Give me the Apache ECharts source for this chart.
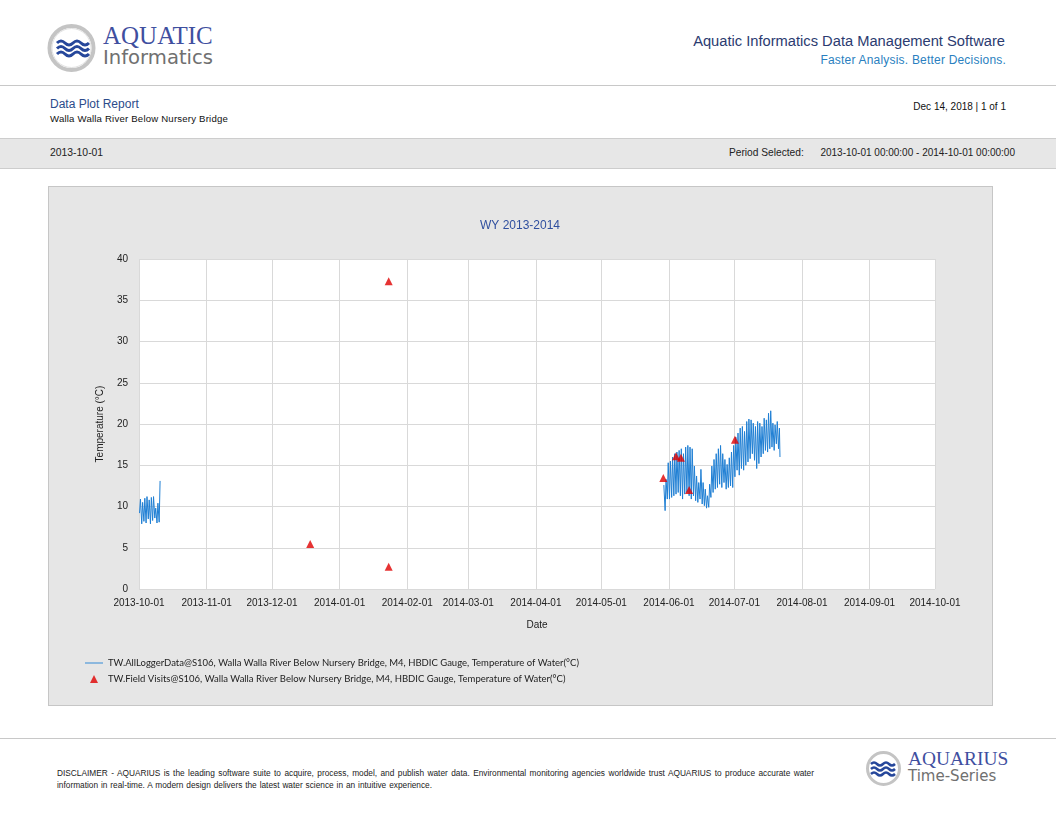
<!DOCTYPE html>
<html>
<head>
<meta charset="utf-8">
<script src="https://cdn.jsdelivr.net/npm/echarts@6/dist/echarts.min.js"></script>
<style>
  html, body { margin: 0; padding: 0; background: #fff; }
  body { width: 1056px; height: 816px; position: relative; overflow: hidden; font-family: 'Liberation Sans', Arial, sans-serif; }
  .abs { position: absolute; white-space: nowrap; }
  #chart { position: absolute; left: 0; top: 0; width: 1056px; height: 816px; z-index: 2; }
</style>
</head>
<body>
<!-- header logo -->
<svg class="abs" style="left:0;top:0;z-index:1" width="300" height="90">
  <circle cx="71.5" cy="48" r="22" fill="#fff" stroke="#c4c4c4" stroke-width="4"/>
  <circle cx="71.5" cy="48" r="19.5" fill="none" stroke="#e2e2e2" stroke-width="1"/>
  <path d="M57,43 q4,-4 8,0 t8,0 t8,0 t8,0" fill="none" stroke="#26479b" stroke-width="3"/>
  <path d="M57,48.5 q4,-4 8,0 t8,0 t8,0 t8,0" fill="none" stroke="#26479b" stroke-width="3"/>
  <path d="M57,54 q4,-4 8,0 t8,0 t8,0 t8,0" fill="none" stroke="#26479b" stroke-width="3"/>
</svg>
<div class="abs" style="left:103px;top:21px;font:25px/29px 'Liberation Serif',serif;color:#3f4f9f;">AQUATIC</div>
<div class="abs" style="left:103px;top:46px;font:19.6px/24px 'DejaVu Sans',sans-serif;color:#707070;">Informatics</div>
<div class="abs" style="right:51px;top:32px;font:14.7px/18px 'Liberation Sans',sans-serif;color:#2b3b70;text-align:right;">Aquatic Informatics Data Management Software</div>
<div class="abs" style="right:50px;top:52px;font:12px/16px 'Liberation Sans',sans-serif;color:#2a7fc0;text-align:right;letter-spacing:0.2px;">Faster Analysis. Better Decisions.</div>
<div class="abs" style="left:0;top:85px;width:1056px;height:1px;background:#c8c8c8;"></div>

<div class="abs" style="left:50px;top:97px;font:12px/14px 'Liberation Sans',sans-serif;color:#2b4b8b;">Data Plot Report</div>
<div class="abs" style="left:50px;top:113px;font:9.6px/12px 'Liberation Sans',sans-serif;color:#111;letter-spacing:0.2px;">Walla Walla River Below Nursery Bridge</div>
<div class="abs" style="right:50px;top:101px;font:10px/12px 'Liberation Sans',sans-serif;color:#111;text-align:right;">Dec 14, 2018 | 1 of 1</div>

<div class="abs" style="left:0;top:138px;width:1056px;height:29px;background:#e7e7e7;border-top:1px solid #cdcdcd;border-bottom:1px solid #cdcdcd;"></div>
<div class="abs" style="left:50px;top:147px;font:10.4px/12px 'Liberation Sans',sans-serif;color:#222;">2013-10-01</div>
<div class="abs" style="left:729px;top:147px;font:10.2px/12px 'Liberation Sans',sans-serif;color:#222;">Period Selected:</div>
<div class="abs" style="right:41px;top:147px;font:10px/12px 'Liberation Sans',sans-serif;color:#222;text-align:right;">2013-10-01 00:00:00 - 2014-10-01 00:00:00</div>

<!-- chart panel -->
<div class="abs" style="left:48px;top:186px;width:943px;height:518px;background:#e6e6e6;border:1px solid #c6c6c6;z-index:1;"></div>

<!-- footer -->
<div class="abs" style="left:0;top:738px;width:1056px;height:1px;background:#c8c8c8;"></div>
<div class="abs" style="left:57px;top:767px;width:757px;white-space:nowrap;font:8.3px/12px 'Liberation Sans',sans-serif;color:#222;text-align:justify;text-align-last:justify;">DISCLAIMER - AQUARIUS is the leading software suite to acquire, process, model, and publish water data. Environmental monitoring agencies worldwide trust AQUARIUS to produce accurate water</div>
<div class="abs" style="left:57px;top:779px;font:8.3px/12px 'Liberation Sans',sans-serif;color:#222;word-spacing:0.6px;">information in real-time. A modern design delivers the latest water science in an intuitive experience.</div>
<svg class="abs" style="left:840px;top:740px;" width="80" height="60">
  <circle cx="43.5" cy="28.5" r="16" fill="#fff" stroke="#c4c4c4" stroke-width="3"/>
  <path d="M31,24 q3,-3 6,0 t6,0 t6,0 t6,0" fill="none" stroke="#26479b" stroke-width="2.5"/>
  <path d="M31,29 q3,-3 6,0 t6,0 t6,0 t6,0" fill="none" stroke="#26479b" stroke-width="2.5"/>
  <path d="M31,34 q3,-3 6,0 t6,0 t6,0 t6,0" fill="none" stroke="#26479b" stroke-width="2.5"/>
</svg>
<div class="abs" style="left:908px;top:747px;font:19.4px/24px 'Liberation Serif',serif;color:#3f4f9f;">AQUARIUS</div>
<div class="abs" style="left:908px;top:767px;font:15px/19px 'DejaVu Sans',sans-serif;color:#707070;">Time-Series</div>

<div id="chart"></div>

<script>
// ---- data ----
const xTickMin = '2013-10-01';
const xTickMax = '2014-10-01';
const yTicks = [0, 5, 10, 15, 20, 25, 30, 35, 40];

const fallDays = ['2013-10-01','2013-10-02','2013-10-03','2013-10-04','2013-10-05','2013-10-06','2013-10-07','2013-10-08','2013-10-09','2013-10-10'];
const fallLow  = [9.2, 7.9, 8.2, 8.0, 8.5, 7.9, 8.3, 8.6, 8.0, 8.1];
const fallHigh = [10.9, 10.5, 11.0, 11.2, 10.8, 11.1, 11.2, 9.8, 10.4, 13.1];

const summerDays = [
  '2014-05-29','2014-05-30','2014-05-31',
  '2014-06-01','2014-06-02','2014-06-03','2014-06-04','2014-06-05','2014-06-06','2014-06-07','2014-06-08','2014-06-09','2014-06-10',
  '2014-06-11','2014-06-12','2014-06-13','2014-06-14','2014-06-15','2014-06-16','2014-06-17','2014-06-18','2014-06-19','2014-06-20',
  '2014-06-21','2014-06-22','2014-06-23','2014-06-24','2014-06-25','2014-06-26','2014-06-27','2014-06-28','2014-06-29','2014-06-30',
  '2014-07-01','2014-07-02','2014-07-03','2014-07-04','2014-07-05','2014-07-06','2014-07-07','2014-07-08','2014-07-09','2014-07-10',
  '2014-07-11','2014-07-12','2014-07-13','2014-07-14','2014-07-15','2014-07-16','2014-07-17','2014-07-18','2014-07-19','2014-07-20',
  '2014-07-21'
];
const summerLow = [
  null, 9.5, 10.9,
  10.9, 11.1, 11.3, 11.5, 11.7, 11.3, 10.9, 11.5, 11.7, 11.3,
  10.9, 11.3, 10.7, 10.5, 10.9, 10.3, 10.1, 9.8, 9.9, 11.1,
  11.7, 12.1, 12.3, 12.7, 12.3, 12.9, 12.1, 12.3, 12.5, 12.3,
  13.6, 14.4, 13.8, 14.6, 14.4, 15.0, 15.4, 15.8, 16.4, 15.6,
  14.6, 15.2, 16.0, 16.4, 16.8, 16.6, 17.0, 17.2, 16.8, 17.6,
  17.0
];
const summerHigh = [
  12.6, 13.3, 15.3,
  15.5, 16.0, 16.4, 16.6, 16.8, 17.0, 16.4, 17.2, 17.4, 17.2,
  17.0, 14.9, 13.7, 12.9, 14.5, 12.9, 12.1, 11.3, 12.7, 14.9,
  15.7, 16.4, 17.0, 17.4, 16.4, 15.7, 15.1, 15.9, 16.6, 17.4,
  18.4, 18.9, 19.5, 19.7, 19.1, 20.3, 20.6, 20.5, 20.1, 19.7,
  20.3, 20.1, 19.7, 20.7, 20.5, 21.3, 21.6, 20.1, 19.9, 20.3,
  19.5
];
const summerEnd = ['2014-07-21 22:00', 16.0];
const gapPoint = ['2013-10-11 00:00', null];

const visitTimes  = ['2013-12-18 12:00','2014-01-23 12:00','2014-01-23 12:00','2014-05-29 10:00','2014-06-04 06:00','2014-06-06 12:00','2014-06-10 06:00','2014-07-01 06:00'];
const visitValues = [5.45, 37.3, 2.7, 13.45, 16.1, 15.9, 12.0, 18.1];

const loggerName = 'TW.AllLoggerData@S106, Walla Walla River Below Nursery Bridge, M4, HBDIC Gauge, Temperature of Water(°C)';
const visitName  = 'TW.Field Visits@S106, Walla Walla River Below Nursery Bridge, M4, HBDIC Gauge, Temperature of Water(°C)';

// ---- build ----
function daily(days, lows, highs) {
  const out = [];
  days.forEach((d, i) => {
    if (lows[i] != null) out.push([d + ' 06:00', lows[i]]);
    if (highs[i] != null) out.push([d + ' 16:00', highs[i]]);
  });
  return out;
}
const loggerData = [].concat(daily(fallDays, fallLow, fallHigh), [gapPoint], daily(summerDays, summerLow, summerHigh), [summerEnd]);
const visitData = visitTimes.map((t, i) => [t, visitValues[i]]);

const DAY = 86400000;
const FONT = "'Liberation Sans', Arial, sans-serif";
const LEGEND_FONT = "Lato, 'Liberation Sans', sans-serif";
const legendText = { color: '#222', fontSize: 9.5, fontFamily: LEGEND_FONT, lineHeight: 12 };

const chart = echarts.init(document.getElementById('chart'), null, { renderer: 'canvas' });
chart.setOption({
  animation: false,
  backgroundColor: 'transparent',
  textStyle: { fontFamily: FONT },
  graphic: [{
    type: 'text', x: 520, y: 226,
    style: { text: 'WY 2013-2014', textAlign: 'center', textVerticalAlign: 'middle', fill: '#2f4f9f', font: "12px " + FONT }
  }],
  grid: { left: 139, top: 259, width: 796, height: 330, show: true, backgroundColor: '#ffffff', borderWidth: 0 },
  xAxis: {
    type: 'time',
    min: xTickMin, max: xTickMax,
    splitNumber: 12, minInterval: 28 * DAY, maxInterval: 31 * DAY,
    axisLine: { show: false }, axisTick: { show: false },
    splitLine: { show: true, lineStyle: { color: '#d9d9d9', width: 1 } },
    axisLabel: {
      color: '#222', fontSize: 10, fontFamily: FONT, margin: 9, hideOverlap: false,
      showMinLabel: true, showMaxLabel: true,
      formatter: v => echarts.time.format(v, '{yyyy}-{MM}-{dd}', false)
    },
    name: 'Date', nameLocation: 'middle', nameGap: 31,
    nameTextStyle: { color: '#222', fontSize: 10, fontFamily: FONT }
  },
  yAxis: {
    type: 'value', min: yTicks[0], max: yTicks[yTicks.length - 1], interval: yTicks[1] - yTicks[0],
    axisLine: { show: false }, axisTick: { show: false },
    splitLine: { show: true, lineStyle: { color: '#d9d9d9', width: 1 } },
    axisLabel: { color: '#222', fontSize: 10, fontFamily: FONT, margin: 11 },
    name: 'Temperature (°C)', nameLocation: 'middle', nameGap: 34,
    nameTextStyle: { color: '#222', fontSize: 10, fontFamily: FONT }
  },
  legend: [
    {
      orient: 'vertical', left: 85, top: 657, padding: 0,
      itemWidth: 18, itemHeight: 8,
      textStyle: legendText,
      data: [{ name: loggerName, icon: 'path://M0,0 H20 V1 H0 Z', itemStyle: { color: '#1f7fd4' } }]
    },
    {
      orient: 'vertical', left: 90, top: 673, padding: 0,
      itemWidth: 8, itemHeight: 8,
      textStyle: Object.assign({}, legendText, { padding: [0, 0, 0, 5] }),
      data: [{ name: visitName, icon: 'triangle', itemStyle: { color: '#e00000' } }]
    }
  ],
  series: [
    {
      name: loggerName, type: 'line', data: loggerData,
      showSymbol: false, symbol: 'none', connectNulls: false,
      lineStyle: { color: '#1f7fd4', width: 1 }, itemStyle: { color: '#1f7fd4' }, z: 2
    },
    {
      name: visitName, type: 'scatter', data: visitData,
      symbol: 'triangle', symbolSize: 8,
      itemStyle: { color: '#e00000' }, z: 3
    }
  ]
});
</script>
</body>
</html>
